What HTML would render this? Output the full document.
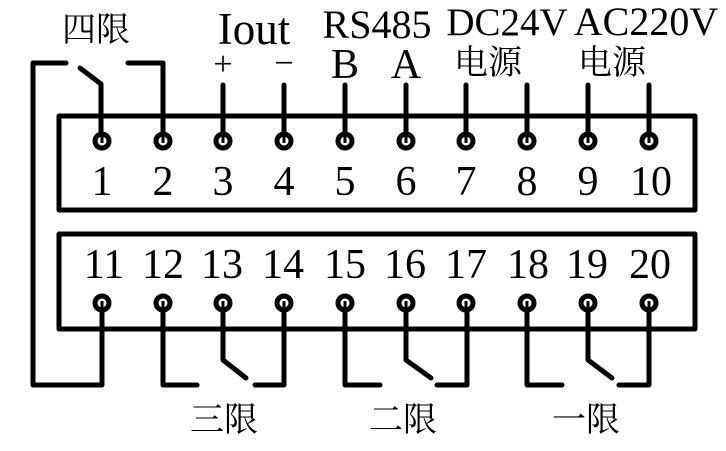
<!DOCTYPE html>
<html><head><meta charset="utf-8"><style>
html,body{margin:0;padding:0;background:#fff;}
svg{display:block;}
text{font-family:"Liberation Serif","Noto Serif CJK SC",serif;fill:#000;}
</style></head><body>
<svg width="726" height="451" viewBox="0 0 726 451" xmlns="http://www.w3.org/2000/svg">
<g fill="none" stroke="#000" stroke-width="5" stroke-linecap="round" stroke-linejoin="round">
<rect x="59" y="116" width="636" height="94"/>
<rect x="59" y="234" width="636" height="95"/>
<polyline points="66,63 33,63 33,385 102,385 102,303"/>
<polyline points="80,68 101,84 101,141"/>
<polyline points="128,63 163,63 163,141"/>
<path d="M223,85V141 M284,85V141 M345,85V141 M406,85V141 M466,85V141 M527,85V141 M588,85V141 M649,85V141"/>
<polyline points="163,303 163,385 197,385"/>
<polyline points="223,303 223,360 246,378"/>
<polyline points="255,385 284,385 284,303"/>
<polyline points="345,303 345,385 380,385"/>
<polyline points="406,303 406,360 431,378"/>
<polyline points="437,385 467,385 467,303"/>
<polyline points="527,303 527,385 562,385"/>
<polyline points="588,303 588,360 612,378"/>
<polyline points="619,385 649,385 649,303"/>
</g>
<g fill="#fff" stroke="#000" stroke-width="5">
<circle cx="102" cy="141" r="7"/><circle cx="163" cy="141" r="7"/><circle cx="223" cy="141" r="7"/><circle cx="284" cy="141" r="7"/><circle cx="345" cy="141" r="7"/><circle cx="406" cy="141" r="7"/><circle cx="466" cy="141" r="7"/><circle cx="527" cy="141" r="7"/><circle cx="588" cy="141" r="7"/><circle cx="649" cy="141" r="7"/>
<circle cx="102" cy="303" r="7"/><circle cx="163" cy="303" r="7"/><circle cx="223" cy="303" r="7"/><circle cx="284" cy="303" r="7"/><circle cx="345" cy="303" r="7"/><circle cx="406" cy="303" r="7"/><circle cx="466" cy="303" r="7"/><circle cx="527" cy="303" r="7"/><circle cx="588" cy="303" r="7"/><circle cx="649" cy="303" r="7"/>
</g>
<g stroke="#000" stroke-width="3">
<path d="M102,134V143 M163,134V143 M223,134V143 M284,134V143 M345,134V143 M406,134V143 M466,134V143 M527,134V143 M588,134V143 M649,134V143"/>
<path d="M102,301V310 M163,301V310 M223,301V310 M284,301V310 M345,301V310 M406,301V310 M466,301V310 M527,301V310 M588,301V310 M649,301V310"/>
</g>
<g font-size="42" text-anchor="middle">
<text x="102" y="195">1</text><text x="163" y="195">2</text><text x="223" y="195">3</text><text x="284" y="195">4</text><text x="345" y="195">5</text><text x="406" y="195">6</text><text x="466" y="195">7</text><text x="527" y="195">8</text><text x="588" y="195">9</text><text x="651" y="195">10</text>
<text x="104" y="278">11</text><text x="163" y="278">12</text><text x="222" y="278">13</text><text x="283" y="278">14</text><text x="345" y="278">15</text><text x="405" y="278">16</text><text x="466" y="278">17</text><text x="528" y="278">18</text><text x="587" y="278">19</text><text x="650" y="278">20</text>
</g>
<g text-anchor="middle">
<text x="254" y="44" font-size="45">Iout</text>
<text x="377" y="38" font-size="40">RS485</text>
<text x="507" y="35" font-size="39">DC24V</text>
<text x="646" y="35" font-size="40">AC220V</text>
<text x="345" y="78" font-size="42">B</text>
<text x="406" y="78" font-size="42">A</text>
<text x="223" y="75" font-size="34">+</text>
<text x="284" y="74" font-size="34">−</text>
</g>
<g font-size="34" text-anchor="middle">
<text x="96" y="41">四限</text>
<text x="488" y="74">电源</text>
<text x="612" y="74">电源</text>
<text x="224" y="431">三限</text>
<text x="403" y="431">二限</text>
<text x="586" y="431">一限</text>
</g>
</svg>
</body></html>
